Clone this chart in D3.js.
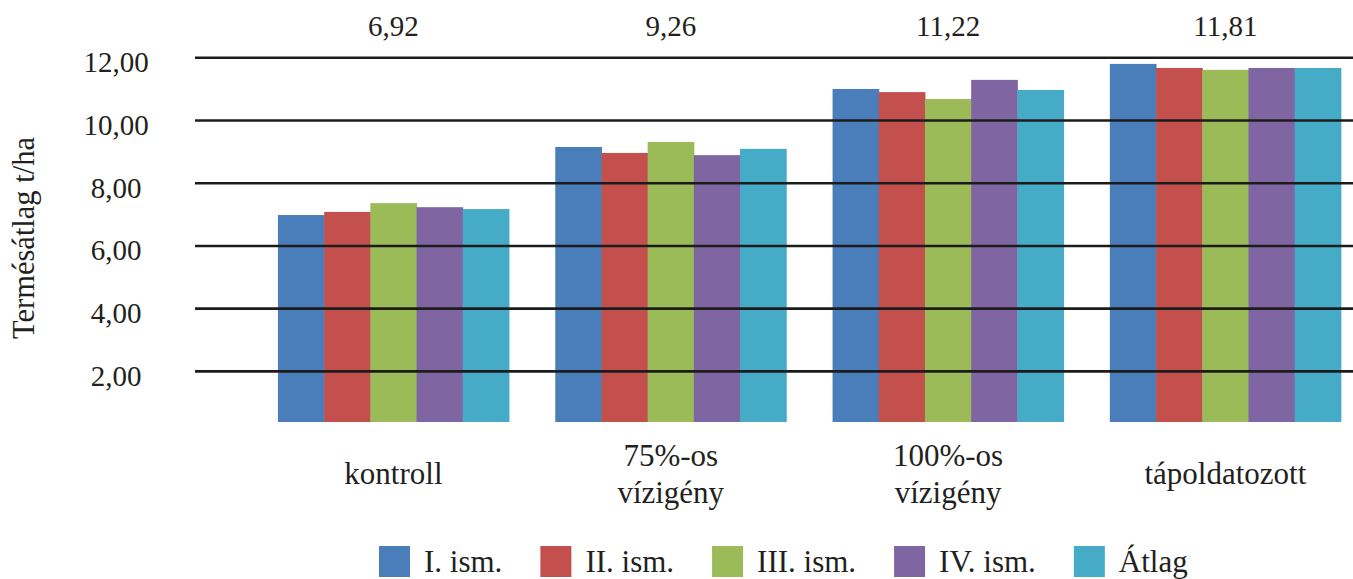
<!DOCTYPE html>
<html lang="hu">
<head>
<meta charset="utf-8">
<title>Termésátlag t/ha</title>
<script src="https://cdn.jsdelivr.net/npm/d3@7"></script>
<style>
  html, body { margin: 0; padding: 0; background: #ffffff; }
  svg { display: block; }
  svg text { font-family: "Liberation Serif", "DejaVu Serif", serif !important; fill: #231f20; }
</style>
</head>
<body>
<svg id="chart" width="1353" height="579"></svg>
<script>
// Treatment groups (category axis)
const categories = ["kontroll", "75%-os vízigény", "100%-os vízigény", "tápoldatozott"];
// Replicates plus their mean
const seriesNames = ["I. ism.", "II. ism.", "III. ism.", "IV. ism.", "Átlag"];
const seriesColors = ["#4a7ebb", "#c4504e", "#9bbb59", "#8065a3", "#45abc7"];
// Yield (t/ha) per series, one value per category
const ism1 = [6.97, 9.14, 10.99, 11.79];
const ism2 = [7.07, 8.95, 10.89, 11.66];
const ism3 = [7.35, 9.30, 10.67, 11.60];
const ism4 = [7.22, 8.88, 11.28, 11.66];
const atlag = [7.16, 9.08, 10.96, 11.66];
// Values printed above each group
const groupLabels = [6.92, 9.26, 11.22, 11.81];
// Value axis
const yTicks = [2, 4, 6, 8, 10, 12];
const yMin = 0.37;
const yMax = 12;

const seriesValues = [ism1, ism2, ism3, ism4, atlag];

const huLocale = d3.formatLocale({ decimal: ",", thousands: " ", grouping: [3], currency: ["", " Ft"] });
const fmt2 = huLocale.format(".2f");

const serif = '"Liberation Serif", "DejaVu Serif", serif';
const svg = d3.select("#chart");

const plotTop = 57.3, plotBottom = 422;
const y = d3.scaleLinear().domain([yMin, yMax]).range([plotBottom, plotTop]);

const x0 = d3.scaleBand()
  .domain(categories)
  .range([254.8, 1364])
  .paddingInner(0.167)
  .paddingOuter(0.0835);

const x1 = d3.scaleBand()
  .domain(seriesNames)
  .range([0, x0.bandwidth()])
  .padding(0);

const color = d3.scaleOrdinal().domain(seriesNames).range(seriesColors);

// Bars
const groups = svg.append("g").attr("class", "bars")
  .selectAll("g")
  .data(categories)
  .join("g")
  .attr("transform", d => `translate(${x0(d)},0)`);

groups.selectAll("rect")
  .data((c, ci) => seriesNames.map((s, si) => ({ series: s, value: seriesValues[si][ci] })))
  .join("rect")
  .attr("x", d => x1(d.series))
  .attr("width", x1.bandwidth() + 0.5)
  .attr("y", d => y(d.value))
  .attr("height", d => plotBottom - y(d.value))
  .attr("fill", d => color(d.series));

// Horizontal gridlines, drawn over the bars
const grid = svg.append("g").attr("class", "grid")
  .attr("transform", "translate(195,0)")
  .call(d3.axisRight(y).tickValues(yTicks).tickSize(1353 - 195).tickFormat(""));
grid.select(".domain").remove();
grid.selectAll(".tick line").attr("stroke", "#1c1c1c").attr("stroke-width", 2.6);

// Value axis labels
const yAxis = svg.append("g").attr("class", "y-axis")
  .attr("transform", "translate(116,0)")
  .attr("font-family", serif)
  .call(d3.axisLeft(y).tickValues(yTicks).tickSize(0).tickPadding(0).tickFormat(fmt2));
yAxis.attr("font-family", serif).attr("font-size", 29);
yAxis.select(".domain").remove();
yAxis.selectAll(".tick text")
  .attr("x", 0)
  .attr("dy", "0.5em")
  .attr("text-anchor", "middle")
  .style("font-family", serif)
  .style("font-size", "29px")
  .style("fill", "#231f20");

// Axis title
svg.append("text")
  .attr("transform", "translate(34,238) rotate(-90)")
  .attr("text-anchor", "middle")
  .style("font-family", serif)
  .style("font-size", "30.5px")
  .text("Termésátlag t/ha");

// Values above each group
svg.append("g").attr("class", "group-labels")
  .selectAll("text")
  .data(categories)
  .join("text")
  .attr("x", d => x0(d) + x0.bandwidth() / 2)
  .attr("y", 36)
  .attr("text-anchor", "middle")
  .style("font-family", serif)
  .style("font-size", "29px")
  .text((d, i) => fmt2(groupLabels[i]));

// Category labels (wrapped at spaces, centred vertically)
const catLabels = svg.append("g").attr("class", "x-axis")
  .selectAll("text")
  .data(categories)
  .join("text")
  .attr("x", d => x0(d) + x0.bandwidth() / 2)
  .attr("text-anchor", "middle")
  .style("font-family", serif)
  .style("font-size", "31px");

catLabels.each(function(d) {
  const lines = d.split(" ");
  const lineH = 37;
  const first = 484 - (lines.length - 1) * lineH / 2;
  const t = d3.select(this);
  lines.forEach((ln, i) => {
    t.append("tspan")
      .attr("x", x0(d) + x0.bandwidth() / 2)
      .attr("y", first + i * lineH)
      .text(ln);
  });
});

// Legend
const legend = svg.append("g").attr("class", "legend");
const sw = 31, textGap = 14, itemGap = 38;
let lx = 379;
seriesNames.forEach((s, i) => {
  legend.append("rect")
    .attr("x", lx).attr("y", 546)
    .attr("width", sw).attr("height", sw)
    .attr("fill", color(s));
  const t = legend.append("text")
    .attr("x", lx + sw + textGap)
    .attr("y", 572)
    .style("font-family", serif)
    .style("font-size", "31px")
    .text(s);
  lx += sw + textGap + t.node().getComputedTextLength() + itemGap;
});
</script>
</body>
</html>
